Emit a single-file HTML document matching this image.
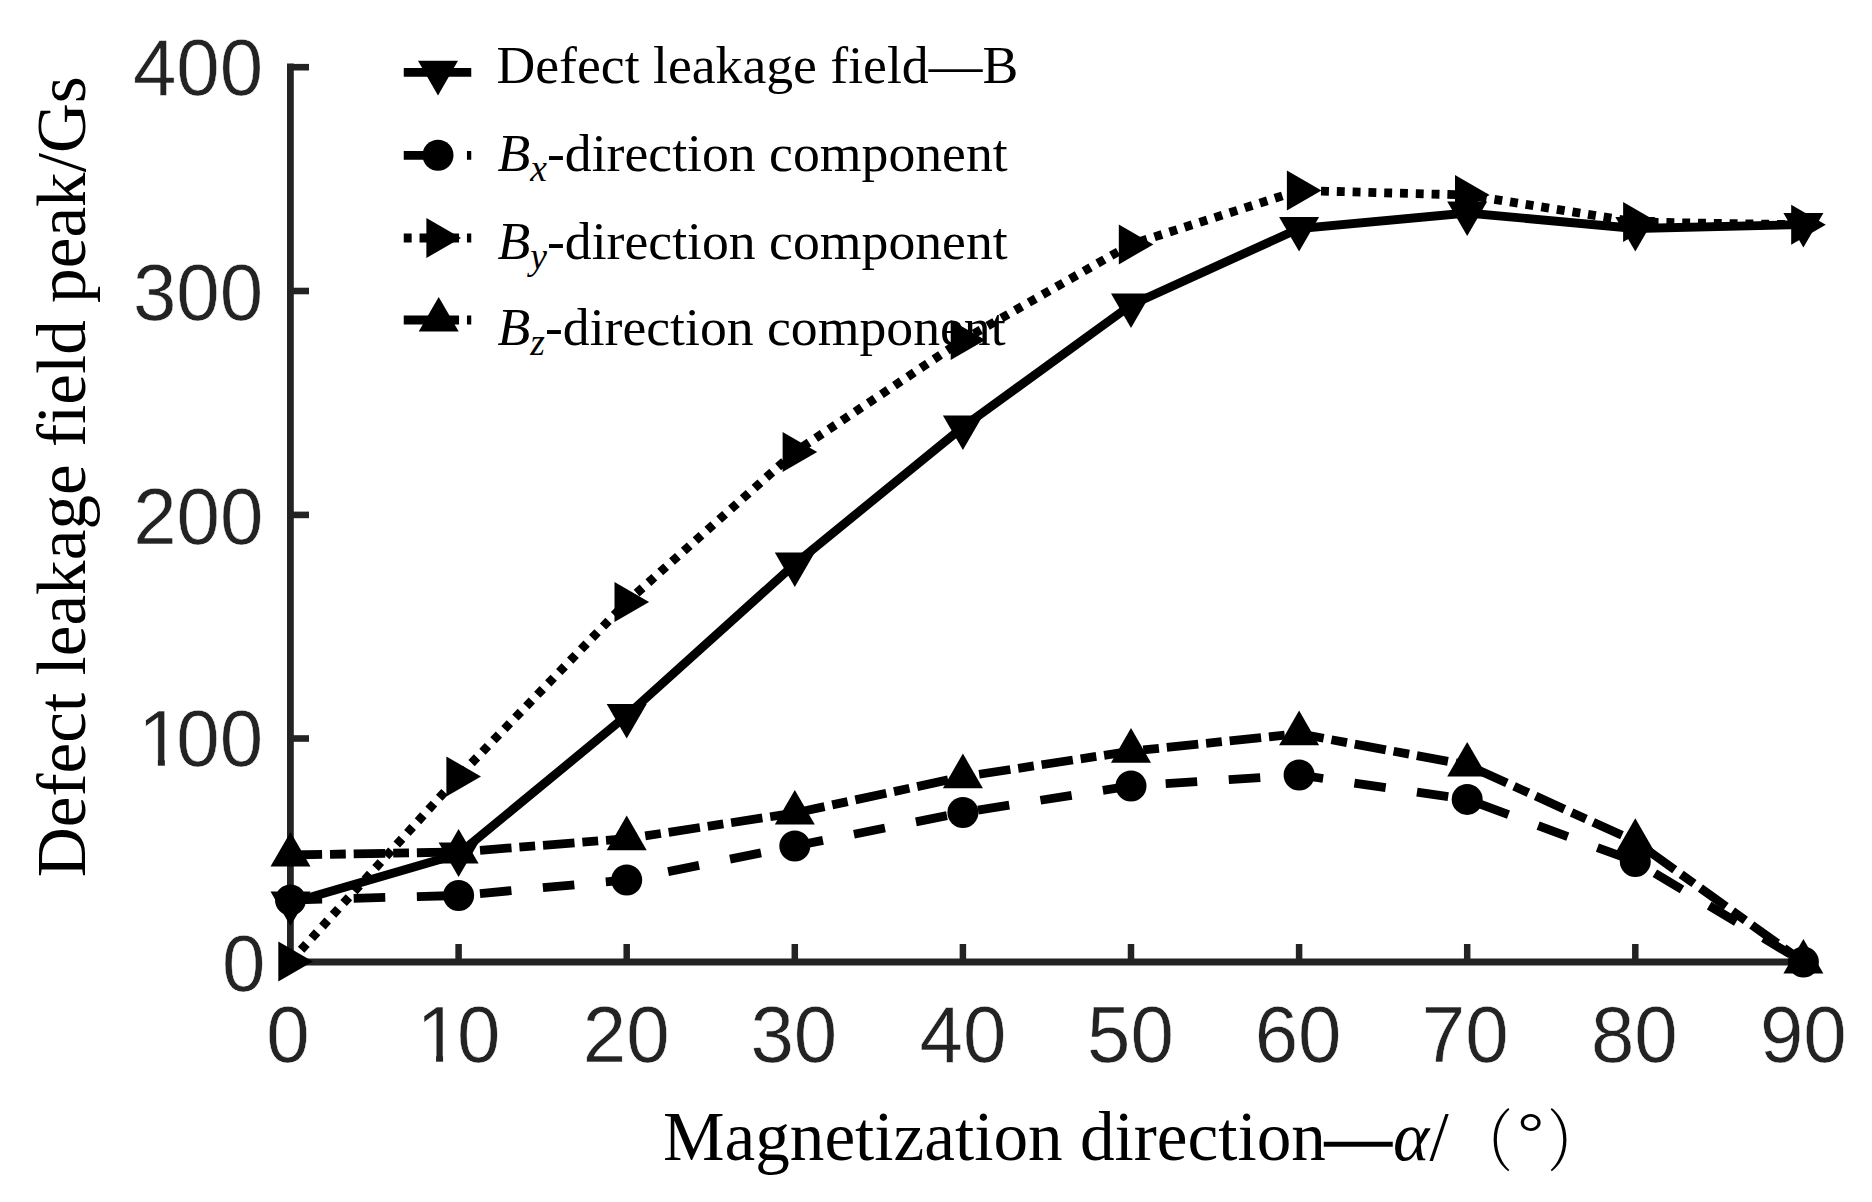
<!DOCTYPE html>
<html lang="en"><head><meta charset="utf-8">
<title>Defect leakage field peak vs magnetization direction</title>
<style>
html,body{margin:0;padding:0;background:#fff;}
body{width:1872px;height:1202px;overflow:hidden;}
svg{display:block;}
.num{font-family:"Liberation Sans",Arial,Helvetica,sans-serif;font-size:78px;fill:#232323;stroke:#fff;stroke-width:0.5px;}
.ser{font-family:"Liberation Serif","Times New Roman",Times,serif;fill:#000;font-variant-ligatures:none;}
.cjk{font-family:"Liberation Serif","Noto Serif CJK SC","Noto Sans CJK SC",serif;font-weight:300;fill:#000;}
.ln{fill:none;stroke:#000;stroke-linejoin:miter;stroke-linecap:butt;}
.mk{fill:#000;stroke:none;}
</style></head><body>
<svg width="1872" height="1202" viewBox="0 0 1872 1202">
<rect x="0" y="0" width="1872" height="1202" fill="#ffffff"/>
<g stroke="#232323" stroke-width="6.8" fill="none" stroke-linecap="butt">
<line x1="290.4" y1="63.6" x2="290.4" y2="965.4"/>
<line x1="287.0" y1="962.0" x2="1805.4" y2="962.0"/>
<line x1="290.4" y1="738.50" x2="309" y2="738.50" stroke-width="6.6"/>
<line x1="290.4" y1="514.90" x2="309" y2="514.90" stroke-width="6.6"/>
<line x1="290.4" y1="291.00" x2="309" y2="291.00" stroke-width="6.6"/>
<line x1="290.4" y1="67.20" x2="309" y2="67.20" stroke-width="6.6"/>
<line x1="458.60" y1="944" x2="458.60" y2="962.0" stroke-width="6.5"/>
<line x1="626.70" y1="944" x2="626.70" y2="962.0" stroke-width="6.5"/>
<line x1="794.80" y1="944" x2="794.80" y2="962.0" stroke-width="6.5"/>
<line x1="962.90" y1="944" x2="962.90" y2="962.0" stroke-width="6.5"/>
<line x1="1131.00" y1="944" x2="1131.00" y2="962.0" stroke-width="6.5"/>
<line x1="1299.10" y1="944" x2="1299.10" y2="962.0" stroke-width="6.5"/>
<line x1="1467.20" y1="944" x2="1467.20" y2="962.0" stroke-width="6.5"/>
<line x1="1635.30" y1="944" x2="1635.30" y2="962.0" stroke-width="6.5"/>
</g>
<text class="num" transform="translate(265.50,991.4) scale(1,1.02)" text-anchor="end">0</text>
<text class="num" transform="translate(0,765.8) scale(1,1.02)"><tspan x="138.30">1</tspan><tspan x="176.34">00</tspan></text>
<rect x="142.74" y="759.56" width="15.12" height="7.54" fill="#fff"/>
<rect x="164.86" y="759.56" width="13.86" height="7.54" fill="#fff"/>
<text class="num" transform="translate(263.30,543.6) scale(1,1.02)" text-anchor="end">200</text>
<text class="num" transform="translate(263.10,320.2) scale(1,1.02)" text-anchor="end">300</text>
<text class="num" transform="translate(263.10,95.0) scale(1,1.02)" text-anchor="end">400</text>
<text class="num" transform="translate(288.00,1062) scale(1,1.02)" text-anchor="middle">0</text>
<text class="num" transform="translate(0,1062) scale(1,1.02)"><tspan x="416.50">1</tspan><tspan x="456.90">0</tspan></text>
<rect x="420.94" y="1055.76" width="15.12" height="7.54" fill="#fff"/>
<rect x="443.06" y="1055.76" width="13.86" height="7.54" fill="#fff"/>
<text class="num" transform="translate(626.20,1062) scale(1,1.02)" text-anchor="middle">20</text>
<text class="num" transform="translate(793.80,1062) scale(1,1.02)" text-anchor="middle">30</text>
<text class="num" transform="translate(962.90,1062) scale(1,1.02)" text-anchor="middle">40</text>
<text class="num" transform="translate(1130.50,1062) scale(1,1.02)" text-anchor="middle">50</text>
<text class="num" transform="translate(1298.10,1062) scale(1,1.02)" text-anchor="middle">60</text>
<text class="num" transform="translate(1465.20,1062) scale(1,1.02)" text-anchor="middle">70</text>
<text class="num" transform="translate(1634.30,1062) scale(1,1.02)" text-anchor="middle">80</text>
<text class="num" transform="translate(1803.30,1062) scale(1,1.02)" text-anchor="middle">90</text>
<text class="ser" font-size="69.2" transform="translate(85,877.2) rotate(-90)" x="0" y="0">Defect leakage field peak/Gs</text>
<text class="ser" font-size="69.2" x="663" y="1159.5">Magnetization direction</text>
<text class="ser" font-size="69.2" transform="translate(1325,1160.5) scale(0.962,1)" stroke="#000" stroke-width="1.6">—</text>
<text class="ser" font-size="69.2" font-style="italic" x="1393" y="1159.5">α</text>
<text class="ser" font-size="69.2" x="1429.5" y="1159.5">/</text>
<text class="cjk" font-size="69.2" transform="translate(1457.6,1165.8) scale(0.8,0.98)">（</text>
<text class="ser" font-size="66" transform="translate(1517.5,1151.5) scale(1,0.86)">°</text>
<text class="cjk" font-size="69.2" transform="translate(1547.2,1165.8) scale(0.8,0.98)">）</text>
<line class="ln" stroke-width="8.8" x1="403.75" y1="72.3" x2="471.25" y2="72.3"/>
<polygon class="mk" points="438.0,95.4 418.0,60.8 458.0,60.8"/>
<line class="ln" stroke-width="8.8" stroke-dasharray="31.6 31.6" x1="403.75" y1="155.3" x2="471.25" y2="155.3"/>
<circle class="mk" cx="438.0" cy="155.3" r="15.5"/>
<line class="ln" stroke-width="8.8" stroke-dasharray="7.9 7.9" x1="403.75" y1="238.0" x2="471.25" y2="238.0"/>
<polygon class="mk" points="461.0,238.0 426.4,218.0 426.4,258.0"/>
<line class="ln" stroke-width="8.8" stroke-dasharray="31.6 7.9 15.8 7.9" x1="403.75" y1="320.0" x2="471.25" y2="320.0"/>
<polygon class="mk" points="438.7,296.9 418.7,331.5 458.7,331.5"/>
<text class="ser" font-size="53.7" x="496.5" y="82.6">Defect leakage field—B</text>
<text class="ser" font-size="53.7" x="497.5" y="171.2"><tspan font-style="italic">B</tspan><tspan font-style="italic" font-size="37.6" dy="9.8">x</tspan><tspan dy="-9.8">-direction component</tspan></text>
<text class="ser" font-size="53.7" x="497.5" y="259.2"><tspan font-style="italic">B</tspan><tspan font-style="italic" font-size="37.6" dy="9.8">y</tspan><tspan dy="-9.8">-direction component</tspan></text>
<text class="ser" font-size="53.7" x="497.5" y="345.0"><tspan font-style="italic">B</tspan><tspan font-style="italic" font-size="37.6" dy="9.8">z</tspan><tspan dy="-9.8">-direction component</tspan></text>
<polyline class="ln" stroke-width="8.8" stroke-dasharray="31.6 31.6" points="290.5,900.0 458.6,895.5 626.7,880.0 794.8,846.0 962.9,812.5 1131.0,786.0 1299.1,775.0 1467.2,799.4 1635.3,861.5 1803.4,962.0"/>
<polyline class="ln" stroke-width="8.8" stroke-dasharray="31.6 7.9 15.8 7.9" points="290.5,855.0 458.6,852.0 626.7,838.7 794.8,813.0 962.9,776.7 1131.0,751.2 1299.1,733.7 1467.2,765.0 1635.3,841.4 1803.4,962.0"/>
<polyline class="ln" stroke-width="8.8" stroke-dasharray="7.9 7.9" points="290.5,961.5 458.6,776.5 626.7,602.0 794.8,452.0 962.9,340.0 1131.0,244.4 1299.1,190.5 1467.2,195.0 1635.3,222.0 1803.4,224.8"/>
<polyline class="ln" stroke-width="8.8" points="290.5,903.0 458.6,854.0 626.7,715.5 794.8,564.0 962.9,427.0 1131.0,305.0 1299.1,228.5 1467.2,213.0 1635.3,228.5 1803.4,224.5"/>
<circle class="mk" cx="290.5" cy="900.0" r="15.5"/>
<circle class="mk" cx="458.6" cy="895.5" r="15.5"/>
<circle class="mk" cx="626.7" cy="880.0" r="15.5"/>
<circle class="mk" cx="794.8" cy="846.0" r="15.5"/>
<circle class="mk" cx="962.9" cy="812.5" r="15.5"/>
<circle class="mk" cx="1131.0" cy="786.0" r="15.5"/>
<circle class="mk" cx="1299.1" cy="775.0" r="15.5"/>
<circle class="mk" cx="1467.2" cy="799.4" r="15.5"/>
<circle class="mk" cx="1635.3" cy="861.5" r="15.5"/>
<circle class="mk" cx="1803.4" cy="962.0" r="15.5"/>
<polygon class="mk" points="290.5,831.9 270.5,866.5 310.5,866.5"/>
<polygon class="mk" points="458.6,828.9 438.6,863.5 478.6,863.5"/>
<polygon class="mk" points="626.7,815.6 606.7,850.2 646.7,850.2"/>
<polygon class="mk" points="794.8,789.9 774.8,824.5 814.8,824.5"/>
<polygon class="mk" points="962.9,753.6 942.9,788.2 982.9,788.2"/>
<polygon class="mk" points="1131.0,728.1 1111.0,762.7 1151.0,762.7"/>
<polygon class="mk" points="1299.1,710.6 1279.1,745.2 1319.1,745.2"/>
<polygon class="mk" points="1467.2,741.9 1447.2,776.5 1487.2,776.5"/>
<polygon class="mk" points="1635.3,818.3 1615.3,852.9 1655.3,852.9"/>
<polygon class="mk" points="1803.4,938.9 1783.4,973.5 1823.4,973.5"/>
<polygon class="mk" points="312.9,961.5 278.3,941.5 278.3,981.5"/>
<polygon class="mk" points="481.0,776.5 446.4,756.5 446.4,796.5"/>
<polygon class="mk" points="649.1,602.0 614.5,582.0 614.5,622.0"/>
<polygon class="mk" points="817.2,452.0 782.6,432.0 782.6,472.0"/>
<polygon class="mk" points="985.3,340.0 950.7,320.0 950.7,360.0"/>
<polygon class="mk" points="1153.4,244.4 1118.8,224.4 1118.8,264.4"/>
<polygon class="mk" points="1321.5,190.5 1286.9,170.5 1286.9,210.5"/>
<polygon class="mk" points="1489.6,195.0 1455.0,175.0 1455.0,215.0"/>
<polygon class="mk" points="1657.7,222.0 1623.1,202.0 1623.1,242.0"/>
<polygon class="mk" points="1825.8,224.8 1791.2,204.8 1791.2,244.8"/>
<polygon class="mk" points="290.5,926.1 270.5,891.5 310.5,891.5"/>
<polygon class="mk" points="458.6,877.1 438.6,842.5 478.6,842.5"/>
<polygon class="mk" points="626.7,738.6 606.7,704.0 646.7,704.0"/>
<polygon class="mk" points="794.8,587.1 774.8,552.5 814.8,552.5"/>
<polygon class="mk" points="962.9,450.1 942.9,415.5 982.9,415.5"/>
<polygon class="mk" points="1131.0,328.1 1111.0,293.5 1151.0,293.5"/>
<polygon class="mk" points="1299.1,251.6 1279.1,217.0 1319.1,217.0"/>
<polygon class="mk" points="1467.2,236.1 1447.2,201.5 1487.2,201.5"/>
<polygon class="mk" points="1635.3,251.6 1615.3,217.0 1655.3,217.0"/>
<polygon class="mk" points="1803.4,247.6 1783.4,213.0 1823.4,213.0"/>
</svg>
</body></html>
